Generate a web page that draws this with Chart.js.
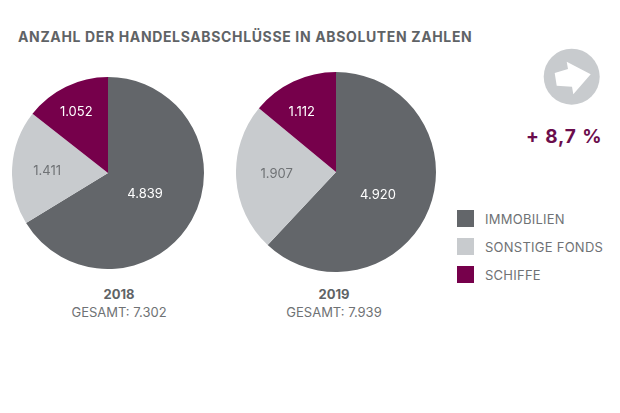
<!DOCTYPE html>
<html lang="de"><head><meta charset="utf-8">
<style>
html,body{margin:0;padding:0;background:#fff;width:620px;height:413px;overflow:hidden}
body{position:relative;font-family:Inter,Lato,sans-serif;color:#6f7275}
canvas{position:absolute}
.t{position:absolute;white-space:nowrap}
.c{text-align:center;transform:translateX(-50%);font-size:13px;line-height:18px}
.c b{display:block;color:#5f6366;font-weight:700}
.sw{position:absolute;width:17px;height:17px}
</style>
<script src="https://cdn.jsdelivr.net/npm/chart.js@4"></script>
</head><body>
<div class="t" style="left:18px;top:28px;font-size:14px;font-weight:700;color:#5f6366;letter-spacing:.64px">ANZAHL DER HANDELSABSCHLÜSSE IN ABSOLUTEN ZAHLEN</div>
<canvas id="a" width="192" height="192" style="left:12px;top:77px"></canvas>
<canvas id="b" width="200" height="200" style="left:236px;top:72px"></canvas>
<div class="t c" style="left:119px;top:285px"><b id="y0"></b><span id="g0"></span></div>
<div class="t c" style="left:334px;top:285px"><b id="y1"></b><span id="g1"></span></div>
<svg style="position:absolute;left:540px;top:45px" width="64" height="64" viewBox="540 45 64 64">
<circle cx="571.7" cy="76.7" r="28" fill="#c8cbce"/>
<polygon points="554.7,73 568,69 566.7,61.7 590.7,74.3 573.3,94.3 572,86.7 556.7,85.7" fill="#fff"/>
</svg>
<div class="t" style="left:526px;top:125px;font-size:19px;font-weight:700;color:#6b0d4c;letter-spacing:.9px">+ 8,7 %</div>
<div id="legend"></div>
<script>
const categories = ["IMMOBILIEN", "SONSTIGE FONDS", "SCHIFFE"];
const years = ["2018", "2019"];
const totals = ["7.302", "7.939"];
const values2018 = [4839, 1411, 1052];
const values2019 = [4920, 1907, 1112];
const colors = ["#63666a", "#c8cbce", "#76004b"];
const labelColors = ["#ffffff", "#6f7275", "#ffffff"];
const labelRadius = [0.43, 0.63, 0.72];
const nudge2018 = [[1, 1], [-0.5, 2], [-1.5, 1]];
const nudge2019 = [[2, 7], [3.5, -2], [-3.5, 5]];
const fmt = v => String(v).replace(/\B(?=(\d{3})+$)/, ".");

const pieLabels = {
  id: "pieLabels",
  afterDatasetsDraw(chart, args, opts) {
    const { ctx } = chart;
    const data = chart.data.datasets[0].data;
    chart.getDatasetMeta(0).data.forEach((arc, i) => {
      const mid = (arc.startAngle + arc.endAngle) / 2;
      const r = arc.outerRadius * labelRadius[i];
      ctx.save();
      ctx.font = "13px Inter, Lato, sans-serif";
      ctx.fillStyle = labelColors[i];
      ctx.textAlign = "center";
      ctx.textBaseline = "middle";
      ctx.fillText(fmt(data[i]), arc.x + Math.cos(mid) * r + opts.nudge[i][0], arc.y + Math.sin(mid) * r + opts.nudge[i][1]);
      ctx.restore();
    });
  }
};
function pie(id, values, nudge) {
  return new Chart(document.getElementById(id), {
    type: "pie",
    data: { labels: categories, datasets: [{ data: values, backgroundColor: colors, borderWidth: 0 }] },
    options: {
      responsive: false, animation: false,
      layout: { padding: 0 },
      plugins: { legend: { display: false }, tooltip: { enabled: false }, pieLabels: { nudge } }
    },
    plugins: [pieLabels]
  });
}
pie("a", values2018, nudge2018);
pie("b", values2019, nudge2019);
years.forEach((y, i) => {
  document.getElementById("y" + i).textContent = y;
  document.getElementById("g" + i).textContent = "GESAMT: " + totals[i];
});
const legend = document.getElementById("legend");
categories.forEach((c, i) => {
  const top = 210 + i * 28;
  legend.insertAdjacentHTML("beforeend",
    `<div class="sw" style="left:457px;top:${top}px;background:${colors[i]}"></div>` +
    `<div class="t" style="left:485px;top:${top + 0.5}px;font-size:13px;letter-spacing:.25px;line-height:17px">${c}</div>`);
});
</script>
</body></html>
